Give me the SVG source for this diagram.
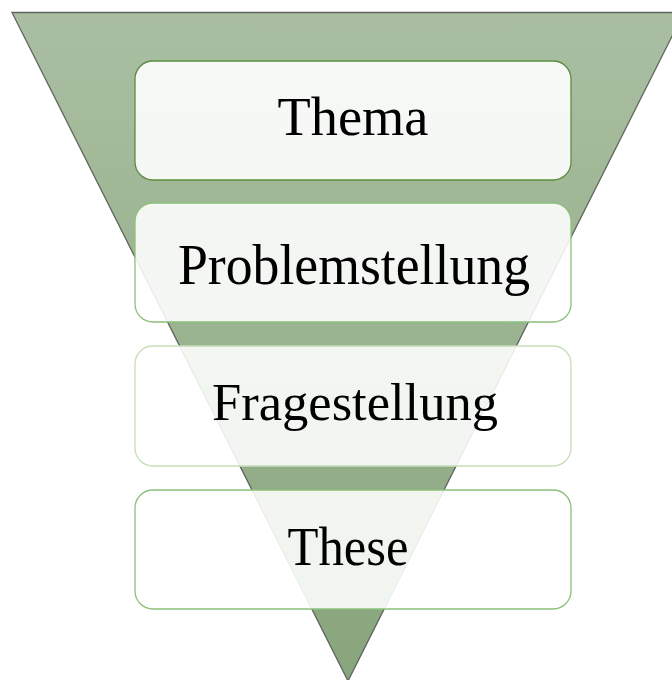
<svg xmlns="http://www.w3.org/2000/svg" width="672" height="680" viewBox="0 0 672 680">
  <defs>
    <linearGradient id="tri" x1="0" y1="0" x2="0" y2="1">
      <stop offset="0" stop-color="#aabfa2"/>
      <stop offset="1" stop-color="#88a57c"/>
    </linearGradient>
    <style>
      .box { fill: #ffffff; fill-opacity: 0.88; stroke-width: 1.3; }
      .lbl { font-family: "Liberation Serif", "DejaVu Serif", serif; fill: #000000; text-anchor: middle; }
    </style>
  </defs>
  <rect width="672" height="680" fill="#ffffff"/>
  <g id="funnel">
    <polygon points="12,12.5 684,12.5 348,681" fill="url(#tri)" stroke="#5f6360" stroke-width="1.3" stroke-linejoin="miter"/>
  </g>
  <g id="node-thema">
    <rect class="box" x="135" y="61" width="436" height="119" rx="18" stroke="#5c8d3e" style="fill-opacity:0.9"/>
    <text class="lbl" x="353" y="135" font-size="54" textLength="151" lengthAdjust="spacingAndGlyphs">Thema</text>
  </g>
  <g id="node-problemstellung">
    <rect class="box" x="135" y="203" width="436" height="119" rx="18" stroke="#8cc07a"/>
    <text class="lbl" x="354" y="284" font-size="56" textLength="352" lengthAdjust="spacingAndGlyphs">Problemstellung</text>
  </g>
  <g id="node-fragestellung">
    <rect class="box" x="135" y="346" width="436" height="120" rx="18" stroke="#c6ddb9"/>
    <text class="lbl" x="355" y="420" font-size="52" textLength="286" lengthAdjust="spacingAndGlyphs">Fragestellung</text>
  </g>
  <g id="node-these">
    <rect class="box" x="135" y="490" width="436" height="119" rx="18" stroke="#8cc07a"/>
    <text class="lbl" x="348" y="565" font-size="54" textLength="121" lengthAdjust="spacingAndGlyphs">These</text>
  </g>
  <g id="connectors"/>
</svg>
